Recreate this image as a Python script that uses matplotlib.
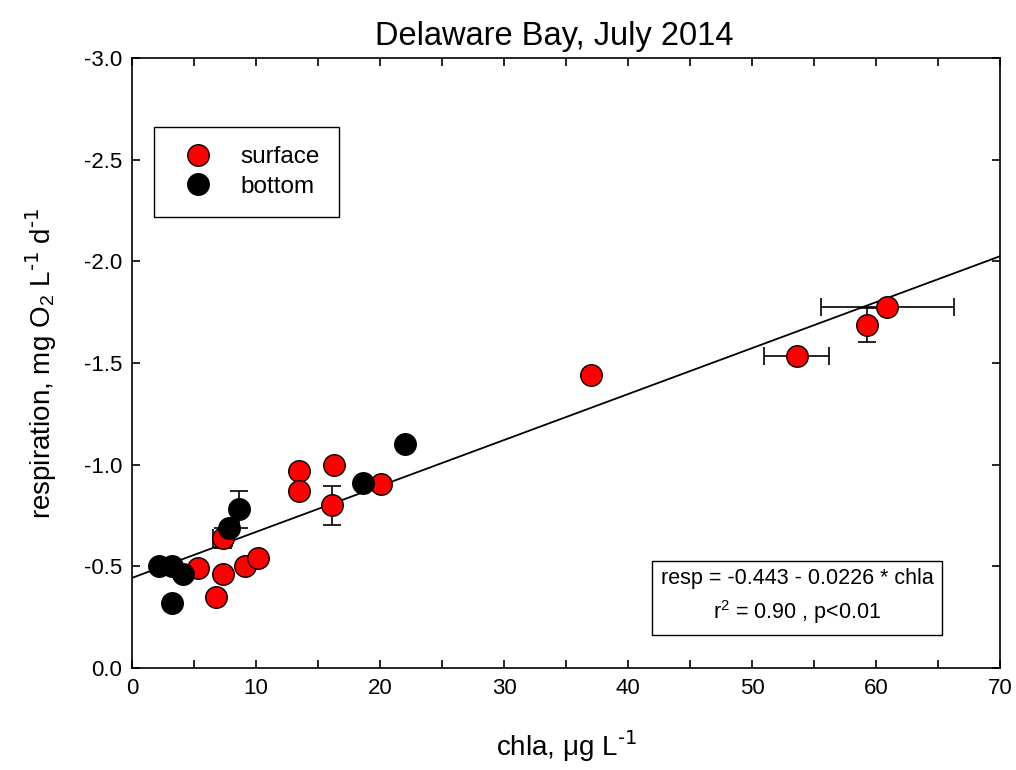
#!/usr/bin/env python3

import numpy as np
import matplotlib
matplotlib.use("Agg")
import matplotlib.pyplot as plt


# surface samples: chla (ug/L), respiration (mg O2/L/d), error bars (0 = none)
surf_chla = [5.3, 7.3, 7.3, 6.8, 9.1, 10.2, 13.5, 13.5, 16.3, 16.1, 20.1, 37.0, 53.6, 59.3, 60.9]
surf_resp = [-0.49, -0.64, -0.46, -0.35, -0.50, -0.54, -0.97, -0.87, -1.00, -0.80, -0.905, -1.44, -1.535, -1.687, -1.774]
surf_xerr = [0, 0.8, 0, 0, 0, 0, 0, 0, 0, 0, 0, 0, 2.6, 0, 5.35]
surf_yerr = [0, 0.05, 0, 0, 0, 0, 0, 0, 0, 0.095, 0, 0, 0, 0.085, 0]

# bottom samples
bot_chla = [2.15, 3.2, 4.1, 3.2, 7.8, 8.65, 18.6, 22.05]
bot_resp = [-0.50, -0.50, -0.46, -0.32, -0.69, -0.78, -0.91, -1.10]
bot_xerr = [0, 0, 0, 0, 0, 0, 0, 0]
bot_yerr = [0, 0, 0, 0, 0, 0.09, 0, 0]

# regression: resp = a + b * chla
fit_a = -0.443
fit_b = -0.0226

x_ticks = [0, 10, 20, 30, 40, 50, 60, 70]
y_ticks = [0.0, -0.5, -1.0, -1.5, -2.0, -2.5, -3.0]


def draw_errors(ax, x, y, xerr, yerr):
    x = np.asarray(x, dtype=float)
    y = np.asarray(y, dtype=float)
    xerr = np.asarray(xerr, dtype=float)
    yerr = np.asarray(yerr, dtype=float)
    kw = dict(fmt="none", ecolor="black", elinewidth=1.2, capsize=6.5,
              capthick=1.2, zorder=2)
    mx = xerr > 0
    if mx.any():
        ax.errorbar(x[mx], y[mx], xerr=xerr[mx], **kw)
    my = yerr > 0
    if my.any():
        ax.errorbar(x[my], y[my], yerr=yerr[my], **kw)


def main():
    plt.rcParams.update(
        {
            "font.family": ["Liberation Sans", "DejaVu Sans"],
            "mathtext.default": "regular",
            "axes.linewidth": 1.2,
        }
    )

    fig = plt.figure(figsize=(10.16, 7.7), dpi=100)
    ax = fig.add_axes([0.1299, 0.1325, 0.8544, 0.7922])

    xs = np.array([0.0, 70.0])
    ax.plot(xs, fit_a + fit_b * xs, color="black", linewidth=1.3, zorder=1)

    draw_errors(ax, surf_chla, surf_resp, surf_xerr, surf_yerr)
    draw_errors(ax, bot_chla, bot_resp, bot_xerr, bot_yerr)

    ax.plot(surf_chla, surf_resp, "o", markersize=15.5, markerfacecolor="#ff0000",
            markeredgecolor="black", markeredgewidth=1.0, zorder=3, label="surface")
    ax.plot(bot_chla, bot_resp, "o", markersize=15.5, markerfacecolor="black",
            markeredgecolor="black", markeredgewidth=1.0, zorder=4, label="bottom")

    ax.set_xlim(0, 70)
    ax.set_ylim(0.0, -3.0)
    ax.set_xticks(x_ticks)
    ax.set_xticks(np.arange(5, 70, 10), minor=True)
    ax.set_yticks(y_ticks)
    ax.set_yticklabels([f"{v:.1f}" if v != 0 else "0.0" for v in y_ticks])

    ax.tick_params(axis="both", which="both", direction="in", top=True, right=True,
                   width=1.2, labelsize=16, pad=7)
    ax.tick_params(axis="both", which="major", length=6)
    ax.tick_params(axis="both", which="minor", length=6)

    ax.set_xlabel(r"chla, $\mu$g L$^{\text{-1}}$", fontsize=20, labelpad=22)
    ax.set_ylabel(r"respiration, mg O$_2$ L$^{\text{-1}}$ d$^{\text{-1}}$",
                  fontsize=20, labelpad=18)
    ax.set_title("Delaware Bay, July 2014", fontsize=23.5, pad=9, x=0.487)

    leg = ax.legend(loc="upper left", bbox_to_anchor=(0.0253, 0.887),
                    borderaxespad=0, fancybox=False, framealpha=1,
                    edgecolor="black", fontsize=17.5, markerscale=1.0,
                    handlelength=2.0, handletextpad=0.74, borderpad=0.8,
                    labelspacing=0.3)
    leg.get_frame().set_linewidth(1.0)

    ax.text(0.766, 0.116, "resp = -0.443 - 0.0226 * chla\n" + r"r$^2$ = 0.90 , p<0.01",
            transform=ax.transAxes, ha="center", va="center", fontsize=15.5,
            multialignment="center", linespacing=1.45,
            bbox=dict(boxstyle="square,pad=0.42", facecolor="white",
                      edgecolor="black", linewidth=1.0))

    fig.savefig("out.png", dpi=100)
    plt.close(fig)


if __name__ == "__main__":
    main()
